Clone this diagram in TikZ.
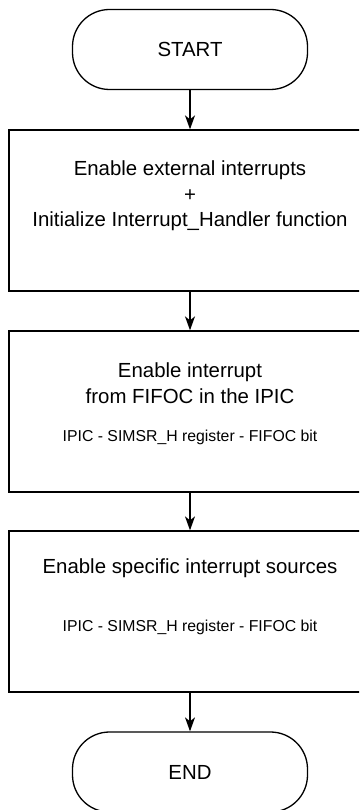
\documentclass[tikz,border=0pt]{standalone}
\usepackage{fontspec}
\setmainfont{Liberation Sans}
\usepackage{tikz}
\usetikzlibrary{arrows.meta,positioning}
\newcommand{\bigtxt}{\fontsize{20.4}{25.5}\selectfont}
\newcommand{\smalltxt}{\fontsize{15.8}{19}\selectfont}

\begin{document}
\begin{tikzpicture}[x=1pt,y=-1pt,line width=1.3pt,
    terminal/.style={draw,rounded corners=37pt,minimum width=235pt,minimum height=80pt,inner sep=0pt,font=\bigtxt},
    stepbox/.style={draw,minimum width=362pt,minimum height=161pt,inner sep=0pt},
    flow/.style={-{Stealth[length=14pt,width=10pt,inset=4pt]}}]
      \clip (0,0) rectangle (359,810);
      \fill[white] (0,0) rectangle (359,810);

      \node[terminal] (start) at (190,49.5) {START};

      \node[stepbox] (init) at (190,210.5) {};
      \node[align=center,font=\bigtxt] (inittxt) at (190,196)
        {Enable external interrupts\\+\\Initialize Interrupt\_Handler function};

      \node[stepbox] (ipic) at (190,411.5) {};
      \node[align=center,font=\bigtxt] (ipictxt) at (190,383)
        {Enable interrupt\\from FIFOC in the IPIC};
      \node[font=\smalltxt] (ipicreg) at (190,437) {IPIC - SIMSR\_H register - FIFOC bit};

      \node[stepbox] (src) at (190,611.5) {};
      \node[font=\bigtxt] (srctxt) at (190,568) {Enable specific interrupt sources};
      \node[font=\smalltxt] (srcreg) at (190,627) {IPIC - SIMSR\_H register - FIFOC bit};

      \node[terminal] (end) at (190,772) {END};

      \draw[flow] (start) -- (init);
      \draw[flow] (init) -- (ipic);
      \draw[flow] (ipic) -- (src);
      \draw[flow] (src) -- (end);
    \end{tikzpicture}
\end{document}
